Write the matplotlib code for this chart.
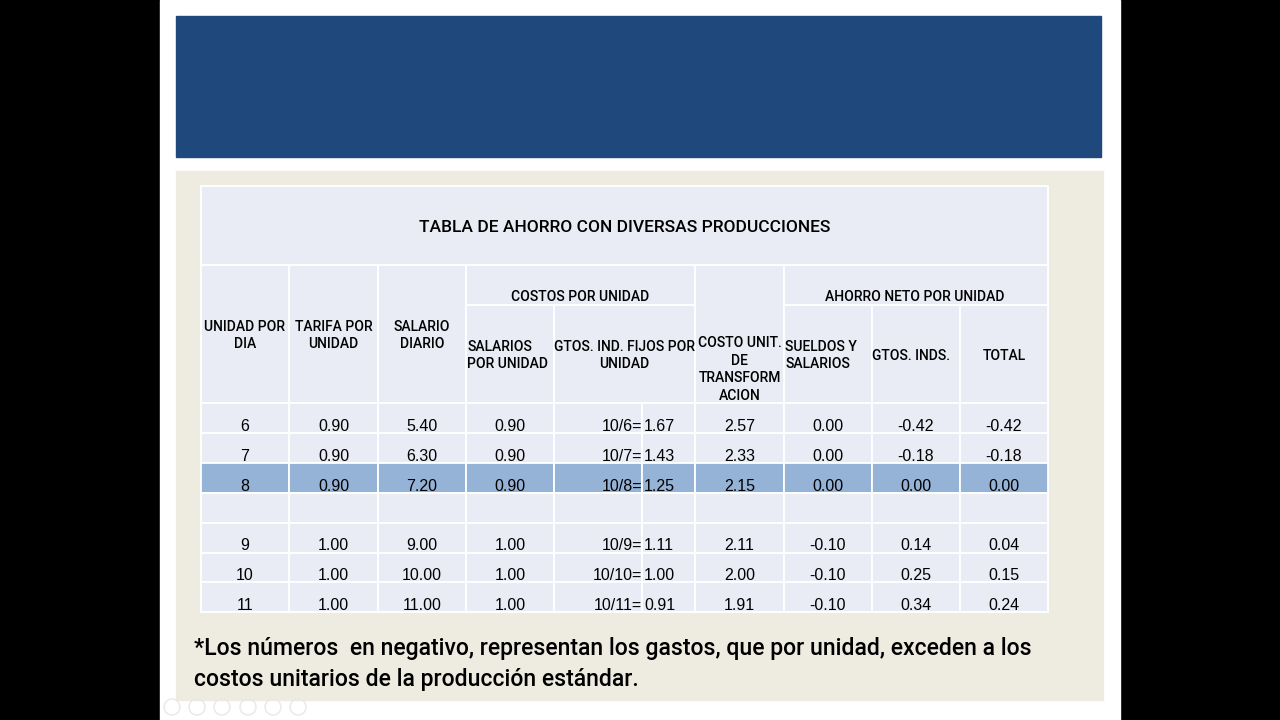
import matplotlib
matplotlib.use("Agg")
import matplotlib.pyplot as plt
from matplotlib.patches import Rectangle, Circle

# table values
unidades = ["6", "7", "8", "9", "10", "11"]
tarifa = [0.90, 0.90, 0.90, 1.00, 1.00, 1.00]
salario_diario = [5.40, 6.30, 7.20, 9.00, 10.00, 11.00]
salario_unidad = [0.90, 0.90, 0.90, 1.00, 1.00, 1.00]
gtos_formula = ["10/6=", "10/7=", "10/8=", "10/9=", "10/10=", "10/11="]
gtos_fijos = [1.67, 1.43, 1.25, 1.11, 1.00, 0.91]
costo_unit = [2.57, 2.33, 2.15, 2.11, 2.00, 1.91]
ahorro_sueldos = [0.00, 0.00, 0.00, -0.10, -0.10, -0.10]
ahorro_gtos = [-0.42, -0.18, 0.00, 0.14, 0.25, 0.34]
ahorro_total = [-0.42, -0.18, 0.00, 0.04, 0.15, 0.24]
fila_estandar = 2  # row highlighted (8 units)

titulo = "TABLA DE AHORRO CON DIVERSAS PRODUCCIONES"
nota = ("*Los números  en negativo, representan los gastos, que por unidad, exceden a los\n"
        "costos unitarios de la producción estándar.")

# layout in pixels
col_x = [201, 289, 378, 466, 554, 695, 784, 872, 960, 1048]
split_x = 642  # GTOS column split in data rows
y_title, y_h1, y_h2, y_data = 186, 265, 305, 403
row_h = 29.9

CELL = "#e9ebf5"
HILITE = "#95b3d7"
LINE = "white"
HEAD_FONT = "Roboto"
DATA_FONT = "Liberation Sans"

fig = plt.figure(figsize=(12.8, 7.2), dpi=100)
fig.patch.set_facecolor("black")
ax = fig.add_axes([0, 0, 1, 1])
ax.set_xlim(0, 1280)
ax.set_ylim(720, 0)
ax.axis("off")

# slide background, banner, panel
ax.add_patch(Rectangle((160, 0), 960, 720, color="white", zorder=0))
ax.add_patch(Rectangle((176, 16), 925, 141, color="#1f497d", zorder=1))
ax.add_patch(Rectangle((176, 171), 927, 529, color="#eeebe1", zorder=1))

def cell(x0, x1, y0, y1, color=CELL):
    ax.add_patch(Rectangle((x0, y0), x1 - x0, y1 - y0, facecolor=color,
                           edgecolor=LINE, lw=1.3, zorder=2))

def txt(x, y, s, ha="center", va="center", size=10, weight="medium",
        family=HEAD_FONT, ls=1.3):
    ax.text(x, y, s, ha=ha, va=va, fontsize=size, fontweight=weight,
            family=family, color="black", zorder=5, linespacing=ls)

# title row
cell(col_x[0], col_x[-1], y_title, y_h1)
txt((col_x[0] + col_x[-1]) / 2, 227, titulo, size=12.5)

# header cells spanning two rows
for i in (0, 1, 2, 5):
    cell(col_x[i], col_x[i + 1], y_h1, y_data)
# grouped headers
cell(col_x[3], col_x[5], y_h1, y_h2)
cell(col_x[6], col_x[9], y_h1, y_h2)
for i in (3, 4, 6, 7, 8):
    cell(col_x[i], col_x[i + 1], y_h2, y_data)

hs = 10
txt(245, 335.5, "UNIDAD POR\nDIA", size=hs)
txt(333.5, 335.5, "TARIFA POR\nUNIDAD", size=hs)
txt(422, 335.5, "SALARIO\nDIARIO", size=hs)
txt(580.5, 297, "COSTOS POR UNIDAD", size=hs)
txt(915, 297, "AHORRO NETO POR UNIDAD", size=hs)
txt(467, 355.5, "SALARIOS\nPOR UNIDAD", ha="left", size=hs)
txt(624.5, 355.5, "GTOS. IND. FIJOS POR\nUNIDAD", size=hs)
txt(739.5, 369.5, "COSTO UNIT.\nDE\nTRANSFORM\nACION", size=hs, ls=1.32)
txt(785, 355.5, "SUELDOS Y\nSALARIOS", ha="left", size=hs)
txt(911, 355.5, "GTOS. INDS.", size=hs)
txt(1004, 355.5, "TOTAL", size=hs)

# data rows, with an empty row after the standard production
columnas = [unidades, tarifa, salario_diario, salario_unidad, None,
            costo_unit, ahorro_sueldos, ahorro_gtos, ahorro_total]
filas = list(range(len(unidades)))
filas.insert(fila_estandar + 1, None)

ds = 11.5
for r, k in enumerate(filas):
    y0 = y_data + r * row_h
    y1 = y0 + row_h
    color = HILITE if k == fila_estandar else CELL
    for i in range(9):
        if i == 4:
            cell(col_x[4], split_x, y0, y1, color)
            cell(split_x, col_x[5], y0, y1, color)
        else:
            cell(col_x[i], col_x[i + 1], y0, y1, color)
    if k is None:
        continue
    yb = y1 - 2
    for i, vals in enumerate(columnas):
        if vals is None:
            txt(split_x, yb, gtos_formula[k], ha="right", va="baseline",
                size=ds, weight="normal", family=DATA_FONT)
            txt(split_x + 2, yb, f"{gtos_fijos[k]:.2f}", ha="left", va="baseline",
                size=ds, weight="normal", family=DATA_FONT)
            continue
        v = vals[k]
        s = v if isinstance(v, str) else f"{v:.2f}"
        txt((col_x[i] + col_x[i + 1]) / 2, yb, s, va="baseline", size=ds,
            weight="normal", family=DATA_FONT)

# footnote
ax.text(194, 664, nota, ha="left", va="center", fontsize=16.6, family=HEAD_FONT,
        fontweight="medium", color="black", zorder=5, linespacing=1.42)

# slide show controls
for cx in (172, 197, 222, 248, 273, 298):
    ax.add_patch(Circle((cx, 707), 8, facecolor="none", edgecolor="#e8e8e8",
                        lw=1, zorder=3))

fig.savefig("out.png", dpi=100, facecolor=fig.get_facecolor())
